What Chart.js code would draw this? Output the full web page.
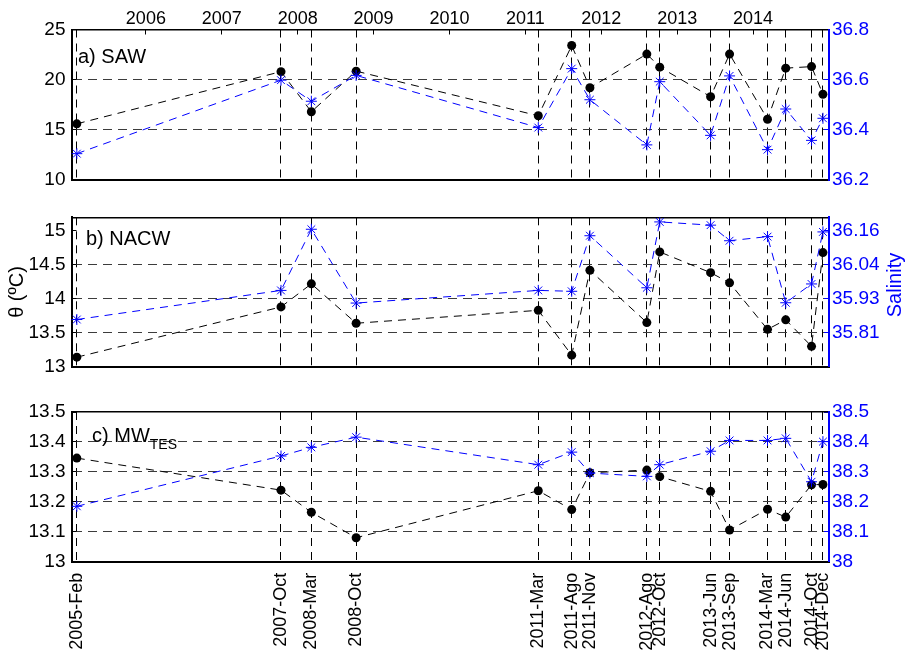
<!DOCTYPE html>
<html><head><meta charset="utf-8">
<script src="https://cdn.jsdelivr.net/npm/chart.js@4.4.0/dist/chart.umd.min.js"></script>
<style>
html,body{margin:0;padding:0;background:#fff;}
#wrap{position:relative;width:908px;height:652px;background:#fff;}
#wrap canvas{position:absolute;left:0;top:0;pointer-events:none;}
</style></head><body>
<div id="wrap">
<canvas id="ca" width="908" height="652"></canvas>
<canvas id="cb" width="908" height="652"></canvas>
<canvas id="cc" width="908" height="652"></canvas>
</div>
<script>
// ---- data ----
const sampleLabels = ['2005-Feb','2007-Oct','2008-Mar','2008-Oct','2011-Mar','2011-Ago','2011-Nov','2012-Ago','2012-Oct','2013-Jun','2013-Sep','2014-Mar','2014-Jun','2014-Oct','2014-Dec'];
const sampleTimes = [2005.09, 2007.78, 2008.18, 2008.77, 2011.17, 2011.61, 2011.85, 2012.60, 2012.77, 2013.44, 2013.69, 2014.19, 2014.43, 2014.77, 2014.92];
const yearTicks = [2006, 2007, 2008, 2009, 2010, 2011, 2012, 2013, 2014];
const yearLabels = ['2006','2007','2008','2009','2010','2011','2012','2013','2014'];

const sawTheta = [15.6, 20.8, 16.8, 20.85, 16.4, 23.4, 19.2, 22.55, 21.25, 18.3, 22.55, 16.05, 21.15, 21.3, 18.55];
const sawSal   = [36.305, 36.598, 36.514, 36.617, 36.409, 36.644, 36.52, 36.34, 36.592, 36.378, 36.615, 36.321, 36.483, 36.358, 36.446];
const nacwTheta = [13.14, 13.88, 14.22, 13.64, 13.83, 13.17, 14.42, 13.65, 14.69, 14.385, 14.235, 13.55, 13.69, 13.30, 14.68];
const nacwSal   = [35.857, 35.956, 36.164, 35.913, 35.956, 35.953, 36.142, 35.965, 36.189, 36.178, 36.125, 36.139, 35.914, 35.978, 36.155];
const mwTheta = [13.346, 13.239, 13.165, 13.08, 13.237, 13.174, 13.297, 13.306, 13.284, 13.235, 13.106, 13.175, 13.149, 13.257, 13.258];
const mwSal   = [38.185, 38.353, 38.382, 38.416, 38.324, 38.366, 38.296, 38.285, 38.324, 38.369, 38.405, 38.405, 38.412, 38.267, 38.401];

const sawThetaTicks = [10, 15, 20, 25];
const sawThetaLabels = ['10','15','20','25'];
const sawSalTicks = [36.2, 36.4, 36.6, 36.8];
const sawSalLabels = ['36.2','36.4','36.6','36.8'];
const nacwThetaTicks = [13, 13.5, 14, 14.5, 15];
const nacwThetaLabels = ['13','13.5','14','14.5','15'];
const nacwSalLabels = ['', '35.81', '35.93', '36.04', '36.16'];
const mwThetaTicks = [13, 13.1, 13.2, 13.3, 13.4, 13.5];
const mwThetaLabels = ['13','13.1','13.2','13.3','13.4','13.5'];
const mwSalTicks = [38, 38.1, 38.2, 38.3, 38.4, 38.5];
const mwSalLabels = ['38','38.1','38.2','38.3','38.4','38.5'];

// ---- layout / style ----
const W = 908, H = 652;
const AREA_L = 71.5, AREA_R = 829;
const XMIN = 2005.02, XMAX = 2015.0;
const FONT = '"Liberation Sans", Arial, Helvetica, sans-serif';
const BLUE = '#0000ff';
Chart.defaults.font.family = FONT;
Chart.defaults.color = '#000';

function toPts(xs, ys){ return xs.map((x,i)=>({x:x, y:ys[i]})); }

const textPlugin = {
  id: 'panelText',
  afterDraw(chart, args, o) {
    const {ctx, chartArea} = chart;
    ctx.save();
    ctx.fillStyle = '#000';
    ctx.textBaseline = 'alphabetic';
    ctx.textAlign = 'left';
    ctx.font = '20px ' + FONT;
    const x = chartArea.left + o.dx, y = chartArea.top + o.dy;
    ctx.fillText(o.text, x, y);
    if (o.sub) {
      const w = ctx.measureText(o.text).width;
      ctx.font = '14px ' + FONT;
      ctx.fillText(o.sub, x + w, y + 7);
    }
    if (o.right) {
      ctx.fillStyle = BLUE;
      ctx.font = '20px ' + FONT;
      ctx.translate(chartArea.right + 66, (chartArea.top + chartArea.bottom)/2 - 7);
      ctx.rotate(-Math.PI/2);
      ctx.textAlign = 'center';
      ctx.textBaseline = 'middle';
      ctx.fillText(o.right, 0, 0);
    }
    ctx.restore();
  }
};

function yAxis(side, min, max, ticks, labels, color, opts) {
  const n = ticks.length;
  return Object.assign({
    type: 'linear', position: side, min: min, max: max, bounds: 'data',
    afterBuildTicks: s => { s.ticks = ticks.map(v => ({value: v})); },
    afterFit: s => { s.width = side === 'left' ? AREA_L : (W - AREA_R); },
    ticks: {
      color: color, font: {size: 19, family: FONT},
      padding: side === 'left' ? 11 : 8,
      callback: (v, i) => labels[i]
    },
    grid: side === 'left' ? {
      display: true, drawOnChartArea: true, drawTicks: true, tickLength: -5,
      color: c => (c.index === 0 || c.index === n - 1) ? 'rgba(0,0,0,0)' : '#3c3c3c',
      tickColor: '#000', tickWidth: 1, lineWidth: 1
    } : {
      display: true, drawOnChartArea: false, drawTicks: true, tickLength: -5,
      color: color, tickColor: color, lineWidth: 1
    },
    border: side === 'left' ? {display: true, color: '#000', width: 2, dash: [9, 6]} : {display: true, color: color, width: 2}
  }, opts || {});
}

function xBottom(showLabels, height) {
  return {
    type: 'linear', position: 'bottom', min: XMIN, max: XMAX, bounds: 'data',
    afterBuildTicks: s => { s.ticks = sampleTimes.map(v => ({value: v})); },
    afterFit: s => { s.height = height; },
    ticks: {
      display: showLabels, autoSkip: false, minRotation: 90, maxRotation: 90,
      font: {size: 18, family: FONT}, color: '#000', padding: 11,
      callback: (v, i) => sampleLabels[i]
    },
    grid: {display: true, drawOnChartArea: true, drawTicks: false, color: '#000', lineWidth: 1},
    border: {display: true, color: '#000', width: 2, dash: [8, 6]}
  };
}

function xTop(showLabels, height) {
  return {
    type: 'linear', position: 'top', min: XMIN, max: XMAX, bounds: 'data',
    afterBuildTicks: s => { s.ticks = (showLabels ? yearTicks : []).map(v => ({value: v})); },
    afterFit: s => { s.height = height; },
    ticks: {
      display: showLabels, autoSkip: false, maxRotation: 0, minRotation: 0,
      font: {size: 18, family: FONT}, color: '#000', padding: 5,
      callback: (v, i) => yearLabels[i]
    },
    grid: {display: true, drawOnChartArea: false, drawTicks: true, tickLength: -5, color: '#000', tickColor: '#000'},
    border: {display: true, color: '#000', width: 1.5}
  };
}

function makeChart(id, cfg) {
  return new Chart(document.getElementById(id), {
    type: 'line',
    data: {
      datasets: [
        {
          data: toPts(sampleTimes, cfg.sal), yAxisID: 'yR', xAxisID: 'x',
          borderColor: BLUE, backgroundColor: BLUE, borderWidth: 1, borderDash: [8, 6],
          pointStyle: 'star', pointRadius: 5.5, pointBorderWidth: 1, pointBorderColor: BLUE,
          tension: 0, fill: false
        },
        {
          data: toPts(sampleTimes, cfg.theta), yAxisID: 'yL', xAxisID: 'x',
          borderColor: '#000', backgroundColor: '#000', borderWidth: 1, borderDash: [8, 6],
          pointStyle: 'circle', pointRadius: 4.5, pointBorderWidth: 0, pointBackgroundColor: '#000',
          tension: 0, fill: false
        }
      ]
    },
    options: {
      responsive: false, animation: false, devicePixelRatio: 1,
      layout: {padding: {left: 0, right: 0, top: cfg.padTop, bottom: cfg.padBottom}},
      plugins: {legend: {display: false}, tooltip: {enabled: false}, panelText: cfg.text},
      scales: {
        x: xBottom(cfg.bottomLabels, cfg.bottomH),
        xT: xTop(cfg.topLabels, cfg.topH),
        yL: cfg.yL,
        yR: cfg.yR
      }
    },
    plugins: [textPlugin]
  });
}

// Panel a
makeChart('ca', {
  theta: sawTheta, sal: sawSal,
  padTop: 0, topH: 29.5, topLabels: true,
  padBottom: H - 180, bottomH: 0, bottomLabels: false,
  yL: yAxis('left', 10, 25, sawThetaTicks, sawThetaLabels, '#000'),
  yR: yAxis('right', 36.2, 36.8, sawSalTicks, sawSalLabels, BLUE),
  text: {text: 'a) SAW', dx: 6.5, dy: 33.5}
});

// Panel b (right axis aligned to left grid)
const NB_LMIN = 13, NB_LMAX = 15.2, NB_RMIN = 35.6965, NB_RMAX = 36.2047;
const nbRightTicks = nacwThetaTicks.map(v => NB_RMIN + (v - NB_LMIN) * (NB_RMAX - NB_RMIN) / (NB_LMAX - NB_LMIN));
makeChart('cb', {
  theta: nacwTheta, sal: nacwSal,
  padTop: 217.3, topH: 0, topLabels: false,
  padBottom: H - 366.7, bottomH: 0, bottomLabels: false,
  yL: yAxis('left', NB_LMIN, NB_LMAX, nacwThetaTicks, nacwThetaLabels, '#000', {
    title: {display: true, text: 'θ (ºC)', color: '#000', font: {size: 20, family: FONT}, padding: {top: 5, bottom: 0}}
  }),
  yR: yAxis('right', NB_RMIN, NB_RMAX, nbRightTicks, nacwSalLabels, BLUE),
  text: {text: 'b) NACW', dx: 14.5, dy: 27.7, right: 'Salinity'}
});

// Panel c
makeChart('cc', {
  theta: mwTheta, sal: mwSal,
  padTop: 412, topH: 0, topLabels: false,
  padBottom: 0, bottomH: H - 561.7, bottomLabels: true,
  yL: yAxis('left', 13, 13.5, mwThetaTicks, mwThetaLabels, '#000'),
  yR: yAxis('right', 38, 38.5, mwSalTicks, mwSalLabels, BLUE),
  text: {text: 'c) MW', dx: 20.5, dy: 30, sub: 'TES'}
});
</script>
</body></html>
